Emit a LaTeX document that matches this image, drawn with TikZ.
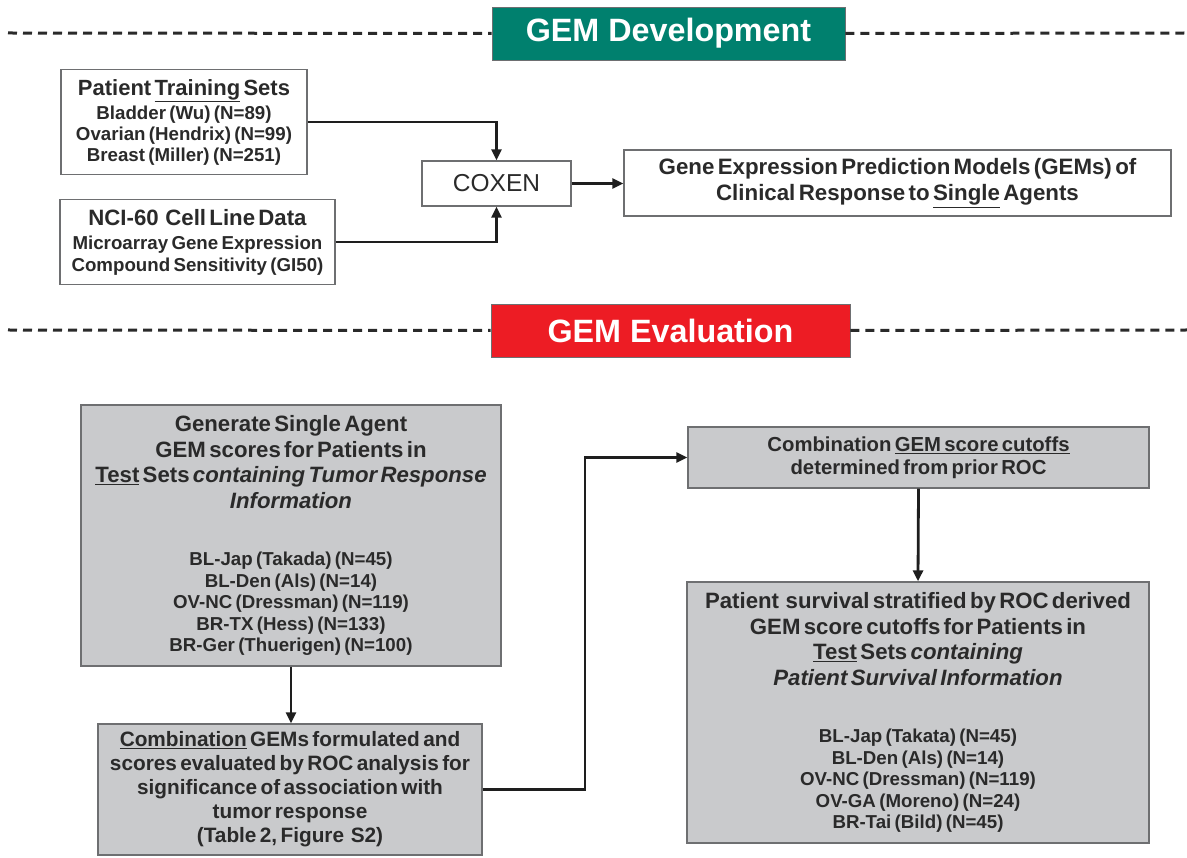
\documentclass[tikz,border=0pt]{standalone}
\usepackage{fontspec}
\setmainfont{Liberation Sans}
\usetikzlibrary{arrows.meta}
\definecolor{gemteal}{HTML}{00806E}
\definecolor{gemred}{HTML}{ED1C24}
\definecolor{boxgray}{HTML}{C9CACC}
\definecolor{edgegray}{HTML}{6E6F71}
\definecolor{txt}{HTML}{2A2A2A}
\definecolor{arrowcol}{HTML}{1E1E1E}
\newcommand\fsz[2]{\fontsize{#1}{#2}\selectfont}
\begin{document}
\begin{tikzpicture}[x=1pt,y=-1pt,
  box/.style={draw=edgegray, line width=1.4pt, inner sep=0pt, align=center, text=txt, font=\bfseries},
  graybox/.style={box, fill=boxgray},
  whitebox/.style={box, fill=white},
  banner/.style={draw=edgegray, line width=0.8pt, inner sep=0pt, text=white, font=\bfseries\fsz{32.3}{38}},
  conn/.style={draw=arrowcol, line width=2.8pt, -{Triangle[length=11pt,width=10pt]}},
  divider/.style={draw=txt, line width=3pt, dash pattern=on 9pt off 6pt}]

\useasboundingbox (0,0) rectangle (1187,858);

% banners and dividers
\node[banner, fill=gemteal, minimum width=353pt, minimum height=53pt] (dev) at (668.5,33.5) {GEM Development};
\coordinate (devL) at (8,33);
\coordinate (devR) at (1187,33);
\draw[divider] (devL) -- (dev.west);
\draw[divider] (dev.east) -- (devR);

\node[banner, fill=gemred, minimum width=359pt, minimum height=53pt] (eval) at (670.5,330.5) {GEM Evaluation};
\coordinate (evalL) at (8,330);
\coordinate (evalR) at (1187,330);
\draw[divider] (evalL) -- (eval.west);
\draw[divider] (eval.east) -- (evalR);

% development part
\node[whitebox, text width=246pt, minimum height=105pt] (train) at (184,122)
  {\fsz{22}{24}Patient \underline{Training} Sets\par\vspace{3pt}
   \fsz{18.7}{21}Bladder (Wu) (N=89)\\Ovarian (Hendrix) (N=99)\\Breast (Miller) (N=251)\par};

\node[whitebox, text width=275pt, minimum height=85pt] (nci) at (197.5,242)
  {\fsz{22.2}{24}NCI-60~~Cell Line Data\par\vspace{2pt}
   \fsz{18.7}{22}Microarray Gene Expression\\Compound Sensitivity (GI50)\par};

\node[whitebox, font=\fsz{24.5}{28}, minimum width=149pt, minimum height=45pt] (coxen) at (496.5,183.5) {COXEN};

\node[whitebox, text width=547pt, minimum height=66pt] (gems) at (897.5,183)
  {\fsz{22.3}{26}Gene Expression Prediction Models (GEMs) of\\Clinical Response to \underline{Single} Agents\par};

% evaluation part
\node[graybox, text width=420pt, minimum height=261pt] (genA) at (291,535.5)
  {\fsz{22.2}{25.7}Generate Single Agent\\GEM scores for Patients in\\\underline{Test} Sets \textit{containing Tumor Response}\\\textit{Information}\par\vspace{35.5pt}
   \fsz{18.7}{21.5}BL-Jap (Takada) (N=45)\\BL-Den (Als) (N=14)\\OV-NC (Dressman) (N=119)\\BR-TX (Hess) (N=133)\\BR-Ger (Thuerigen) (N=100)\par};

\node[graybox, text width=384pt, minimum height=131pt] (comb) at (290,789.5)
  {\fsz{20.8}{24}\underline{Combination} GEMs formulated and\\scores evaluated by ROC analysis for\\significance of association with\\tumor response\\(Table 2, Figure~~S2)\par};

\node[graybox, text width=461pt, minimum height=61pt] (cut) at (918.5,457.5)
  {\fsz{20.3}{23}Combination \underline{GEM score cutoffs}\\determined from prior ROC\par};

\node[graybox, text width=462pt, minimum height=261pt] (surv) at (918,712.5)
  {\fsz{22.2}{25.7}Patient~~survival stratified by ROC derived\\GEM score cutoffs for Patients in\\\underline{Test} Sets \textit{containing}\\\textit{Patient Survival Information}\par\vspace{35.5pt}
   \fsz{18.7}{21.5}BL-Jap (Takata) (N=45)\\BL-Den (Als) (N=14)\\OV-NC (Dressman) (N=119)\\OV-GA (Moreno) (N=24)\\BR-Tai (Bild) (N=45)\par};

% connectors
\draw[conn] (train.east) -| (coxen.north);
\draw[conn] (nci.east) -| (coxen.south);
\draw[conn] (coxen.east) -- (coxen.east -| gems.west);
\draw[conn] (genA.south) -- (genA.south |- comb.north);
\coordinate (bend) at (585,790);
\draw[conn] (comb.east) -- (comb.east -| bend) |- (cut.west);
\draw[conn] (cut.south) -- (surv.north);
\end{tikzpicture}
\end{document}
